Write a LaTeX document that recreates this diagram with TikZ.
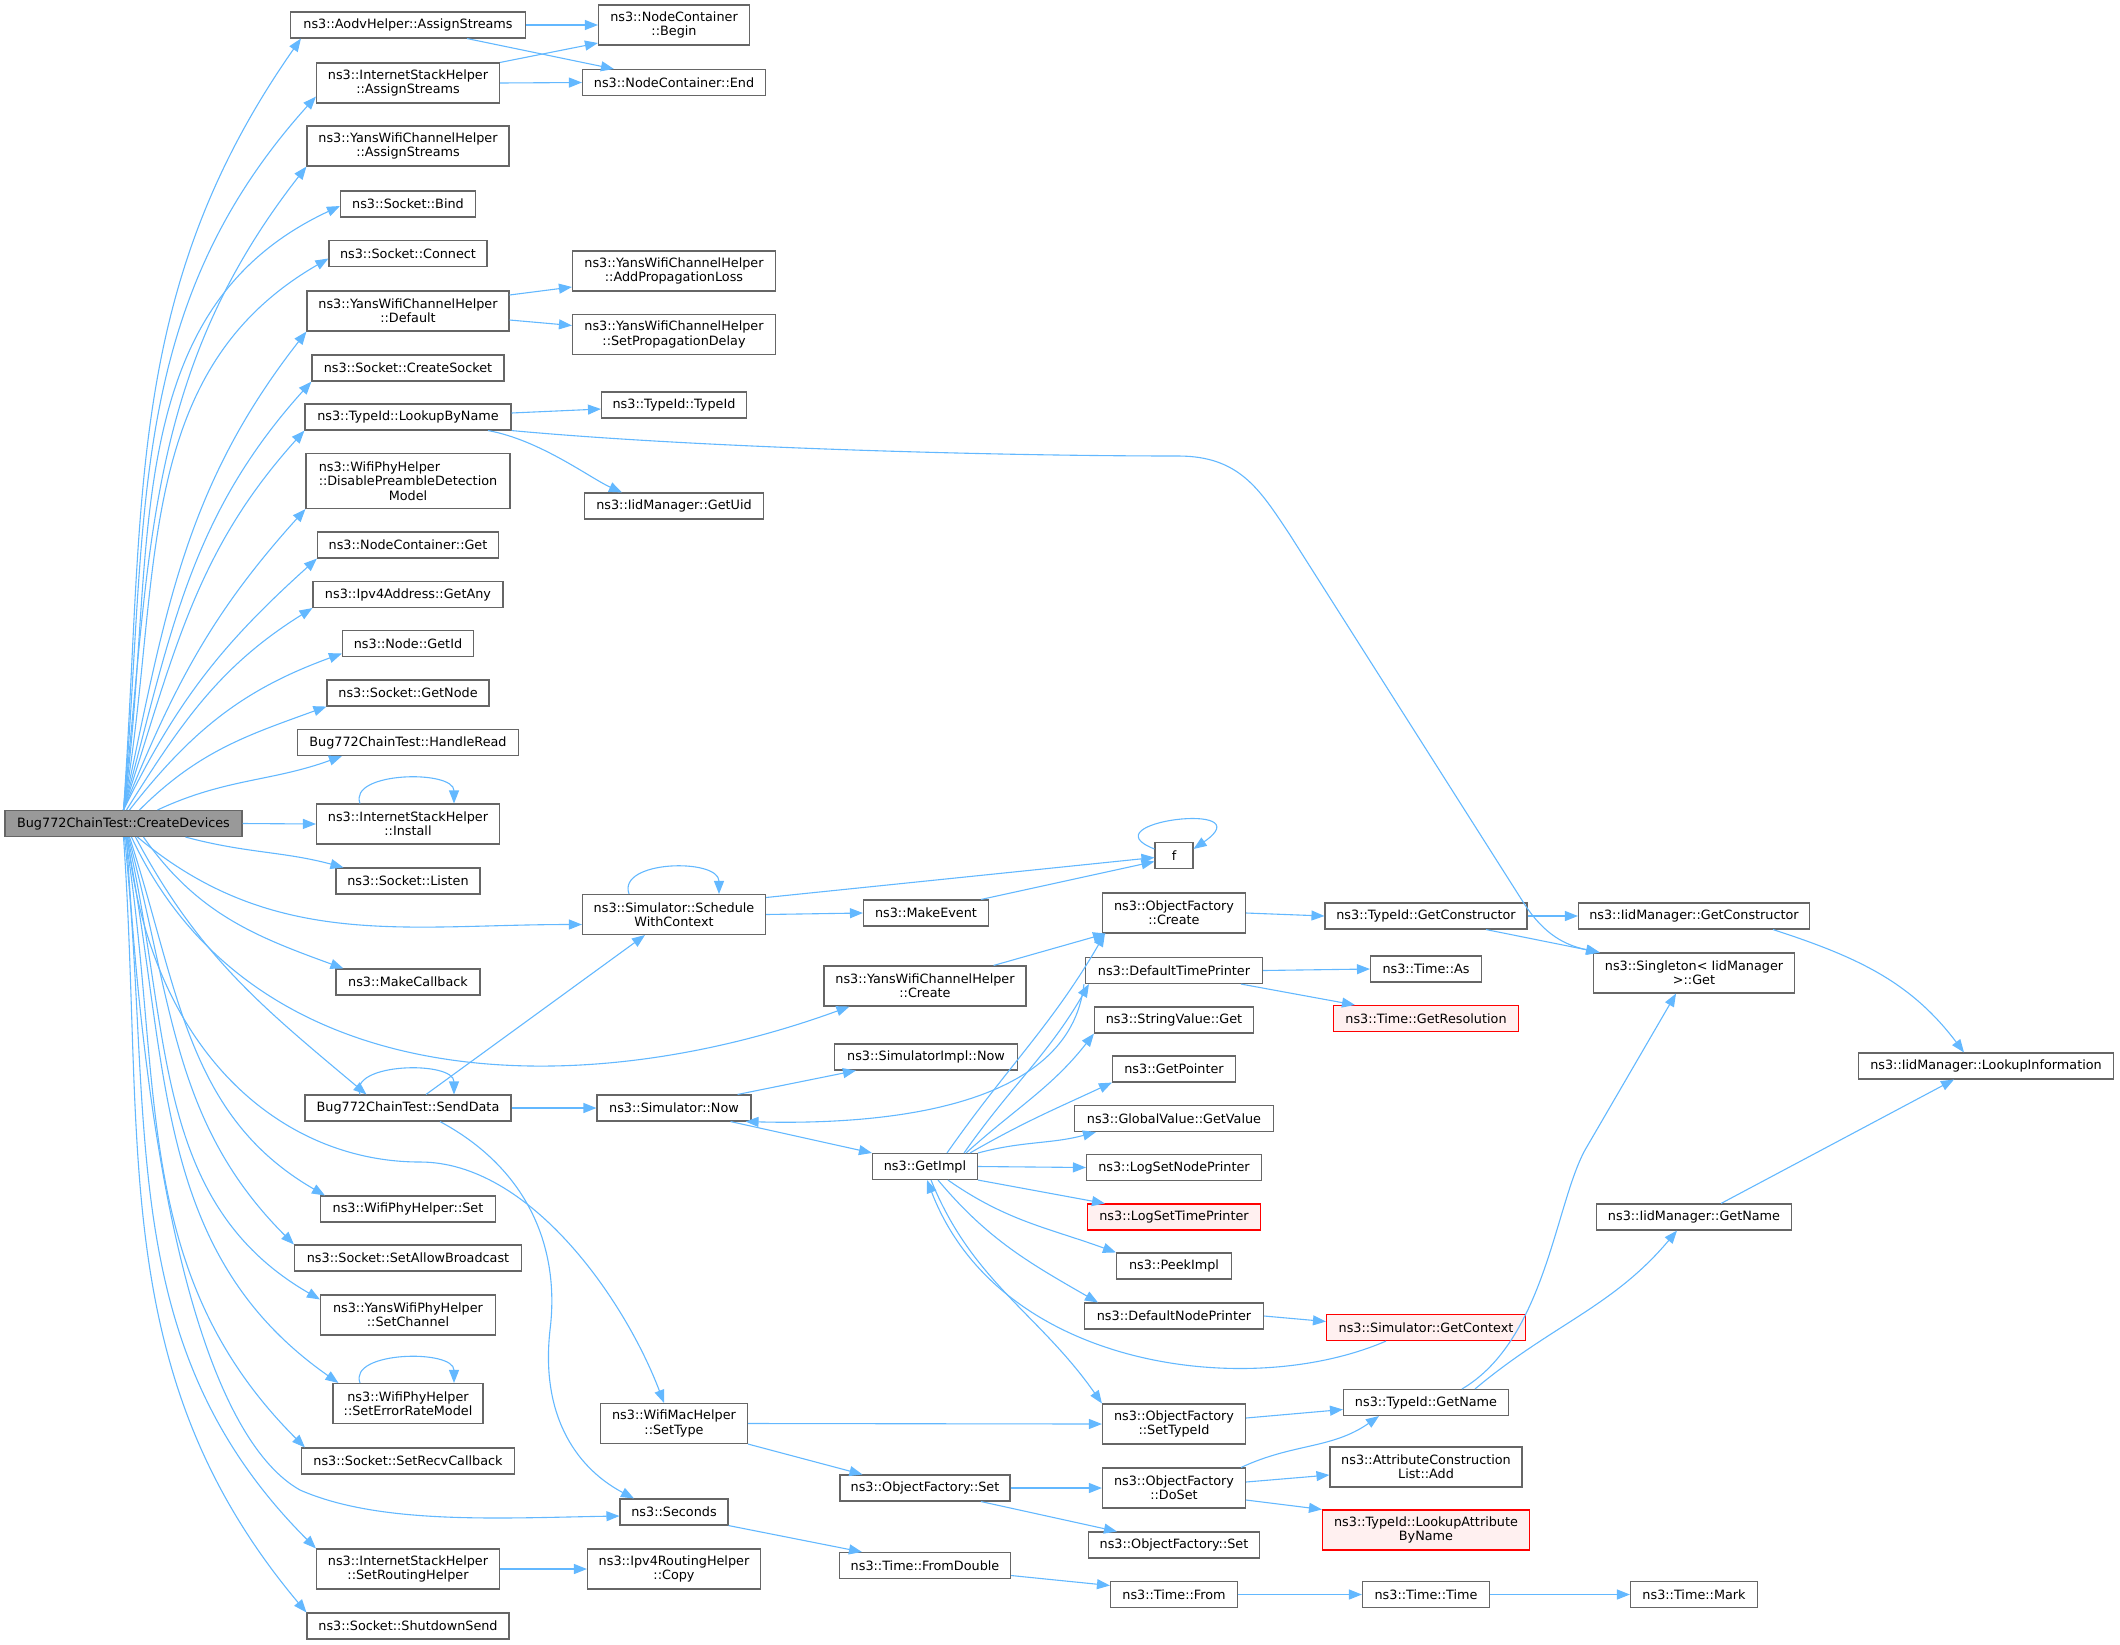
\documentclass[tikz,border=0pt]{standalone}
\usepackage{fontspec}
\setmainfont{DejaVu Sans}
\usetikzlibrary{arrows.meta}
\definecolor{edgeblue}{HTML}{63B8FF}
\definecolor{boxgray}{HTML}{666666}
\definecolor{rootgray}{HTML}{999999}
\definecolor{undocfill}{HTML}{FFF0F0}

\begin{document}
\begin{tikzpicture}[x=1pt, y=1pt, >={Triangle[length=13pt,width=10pt]},
	fn/.style={draw=boxgray, fill=white, line width=1.1pt, inner sep=2pt, align=center,
		font=\fontsize{12.8}{14.3}\selectfont, minimum height=26pt},
	two/.style={minimum height=40pt},
	root/.style={fill=rootgray},
	undoc/.style={draw=red, fill=undocfill},
	call/.style={->, edgeblue, line width=1.1pt}]
	\useasboundingbox (0,0) rectangle (2120,-1644);

	% Nodes {root, callees of CreateDevices}
	\node [fn, root, minimum width=237pt]	(cd)		at (123.5,-823.5)	{Bug772ChainTest::CreateDevices};
	\node [fn, minimum width=235pt]		(aodv)		at (408,-25)	{ns3::AodvHelper::AssignStreams};
	\node [fn, two, minimum width=183pt]	(isas)		at (408,-83)	{ns3::InternetStackHelper\\::AssignStreams};
	\node [fn, two, minimum width=202pt]	(ywas)		at (408,-146)	{ns3::YansWifiChannelHelper\\::AssignStreams};
	\node [fn, minimum width=135pt]		(bind)		at (408,-204)	{ns3::Socket::Bind};
	\node [fn, minimum width=158pt]		(connect)	at (408,-253.5)	{ns3::Socket::Connect};
	\node [fn, two, minimum width=202pt]	(default)	at (408,-311)	{ns3::YansWifiChannelHelper\\::Default};
	\node [fn, minimum width=192pt]		(csock)		at (408,-368)	{ns3::Socket::CreateSocket};
	\node [fn, minimum width=206pt]		(lookup)	at (408,-417)	{ns3::TypeId::LookupByName};
	\node [fn, minimum width=204pt, minimum height=55pt]	(disable)	at (408,-481)
		{\rlap{ns3::WifiPhyHelper}\phantom{::DisablePreambleDetection}\\::DisablePreambleDetection\\Model};
	\node [fn, minimum width=181pt]		(ncget)		at (408,-545)	{ns3::NodeContainer::Get};
	\node [fn, minimum width=190pt]		(getany)	at (408,-594.5)	{ns3::Ipv4Address::GetAny};
	\node [fn, minimum width=131pt]		(getid)		at (408,-643.5)	{ns3::Node::GetId};
	\node [fn, minimum width=162pt]		(getnode)	at (408,-693)	{ns3::Socket::GetNode};
	\node [fn, minimum width=221pt]		(hread)		at (408,-742.5)	{Bug772ChainTest::HandleRead};
	\node [fn, two, minimum width=183pt]	(install)	at (408,-824)	{ns3::InternetStackHelper\\::Install};
	\node [fn, minimum width=144pt]		(listen)	at (408,-881)	{ns3::Socket::Listen};
	\node [fn, minimum width=144pt]		(mkcb)		at (408,-982)	{ns3::MakeCallback};
	\node [fn, minimum width=206pt]		(send)		at (408,-1108)	{Bug772ChainTest::SendData};
	\node [fn, minimum width=175pt]		(wset)		at (408,-1209)	{ns3::WifiPhyHelper::Set};
	\node [fn, minimum width=227pt]		(allowbc)	at (408,-1258)	{ns3::Socket::SetAllowBroadcast};
	\node [fn, two, minimum width=175pt]	(setchan)	at (408,-1315)	{ns3::YansWifiPhyHelper\\::SetChannel};
	\node [fn, two, minimum width=150pt]	(errmodel)	at (408,-1403.5)	{ns3::WifiPhyHelper\\::SetErrorRateModel};
	\node [fn, minimum width=213pt]		(recvcb)	at (408,-1461)	{ns3::Socket::SetRecvCallback};
	\node [fn, two, minimum width=183pt]	(routing)	at (408,-1569)	{ns3::InternetStackHelper\\::SetRoutingHelper};
	\node [fn, minimum width=202pt]		(shutdown)	at (408,-1626)	{ns3::Socket::ShutdownSend};

	% Nodes {second column}
	\node [fn, two, minimum width=151pt]	(begin)		at (674,-25)	{ns3::NodeContainer\\::Begin};
	\node [fn, minimum width=183pt]		(end)		at (674,-82.5)	{ns3::NodeContainer::End};
	\node [fn, two, minimum width=203pt]	(addloss)	at (674,-271)	{ns3::YansWifiChannelHelper\\::AddPropagationLoss};
	\node [fn, two, minimum width=203pt]	(setdelay)	at (674,-334.5)	{ns3::YansWifiChannelHelper\\::SetPropagationDelay};
	\node [fn, minimum width=145pt]		(typeid)	at (674,-405)	{ns3::TypeId::TypeId};
	\node [fn, minimum width=179pt]		(getuid)	at (674,-506)	{ns3::IidManager::GetUid};
	\node [fn, two, minimum width=183pt]	(sched)		at (674,-914.5)	{ns3::Simulator::Schedule\\WithContext};
	\node [fn, minimum width=154pt]		(simnow)	at (674,-1108)	{ns3::Simulator::Now};
	\node [fn, two, minimum width=147pt]	(settype)	at (674,-1423.5)	{ns3::WifiMacHelper\\::SetType};
	\node [fn, minimum width=108pt]		(seconds)	at (674,-1512)	{ns3::Seconds};
	\node [fn, two, minimum width=173pt]	(copy)		at (674,-1569)	{ns3::Ipv4RoutingHelper\\::Copy};

	% Nodes {third column}
	\node [fn, minimum width=125pt]		(mkevent)	at (926,-913)	{ns3::MakeEvent};
	\node [fn, two, minimum width=202pt]	(ywcreate)	at (925,-986)	{ns3::YansWifiChannelHelper\\::Create};
	\node [fn, minimum width=183pt]		(implnow)	at (926,-1057)	{ns3::SimulatorImpl::Now};
	\node [fn, minimum width=105pt]		(getimpl)	at (925,-1166.5)	{ns3::GetImpl};
	\node [fn, minimum width=170pt]		(ofset)		at (925,-1488)	{ns3::ObjectFactory::Set};
	\node [fn, minimum width=171pt]		(fromdbl)	at (925,-1565.5)	{ns3::Time::FromDouble};

	% Nodes {fourth column}
	\node [fn, minimum width=38pt]		(f)		at (1174,-855.5)	{f};
	\node [fn, two, minimum width=143pt]	(ofcreate)	at (1174,-913)	{ns3::ObjectFactory\\::Create};
	\node [fn, minimum width=177pt]		(dtp)		at (1174,-970.5)	{ns3::DefaultTimePrinter};
	\node [fn, minimum width=159pt]		(svget)		at (1174,-1020)	{ns3::StringValue::Get};
	\node [fn, minimum width=123pt]		(getptr)	at (1174,-1069)	{ns3::GetPointer};
	\node [fn, minimum width=199pt]		(gvget)		at (1174,-1118.5)	{ns3::GlobalValue::GetValue};
	\node [fn, minimum width=175pt]		(lsnp)		at (1174,-1167.5)	{ns3::LogSetNodePrinter};
	\node [fn, undoc, minimum width=173pt]	(lstp)		at (1174,-1217)	{ns3::LogSetTimePrinter};
	\node [fn, minimum width=115pt]		(peek)		at (1174,-1266)	{ns3::PeekImpl};
	\node [fn, minimum width=179pt]		(dnp)		at (1174,-1316)	{ns3::DefaultNodePrinter};
	\node [fn, two, minimum width=143pt]	(settid)	at (1174,-1424)	{ns3::ObjectFactory\\::SetTypeId};
	\node [fn, two, minimum width=143pt]	(doset)		at (1174,-1488)	{ns3::ObjectFactory\\::DoSet};
	\node [fn, minimum width=171pt]		(ofset2)	at (1174,-1545)	{ns3::ObjectFactory::Set};
	\node [fn, minimum width=127pt]		(tfrom)		at (1174,-1594.5)	{ns3::Time::From};

	% Nodes {fifth column and beyond}
	\node [fn, minimum width=202pt]		(getctor)	at (1426,-916)	{ns3::TypeId::GetConstructor};
	\node [fn, minimum width=111pt]		(timeas)	at (1426,-969)	{ns3::Time::As};
	\node [fn, undoc, minimum width=185pt]	(getres)	at (1426,-1018.5)	{ns3::Time::GetResolution};
	\node [fn, undoc, minimum width=199pt]	(getctx)	at (1426,-1327.5)	{ns3::Simulator::GetContext};
	\node [fn, minimum width=165pt]		(getname)	at (1426,-1402.5)	{ns3::TypeId::GetName};
	\node [fn, two, minimum width=192pt]	(attradd)	at (1426,-1467)	{ns3::AttributeConstruction\\List::Add};
	\node [fn, two, undoc, minimum width=207pt]	(lkattr)	at (1426,-1530)	{ns3::TypeId::LookupAttribute\\ByName};
	\node [fn, minimum width=127pt]		(ttime)		at (1426,-1594.5)	{ns3::Time::Time};
	\node [fn, minimum width=231pt]		(iidctor)	at (1694,-916)	{ns3::IidManager::GetConstructor};
	\node [fn, two, minimum width=201pt]	(single)	at (1694,-973)	{ns3::Singleton< IidManager\\>::Get};
	\node [fn, minimum width=195pt]		(iidname)	at (1694,-1217)	{ns3::IidManager::GetName};
	\node [fn, minimum width=127pt]		(tmark)		at (1694,-1594.5)	{ns3::Time::Mark};
	\node [fn, minimum width=255pt]		(lkinfo)	at (1986,-1066)	{ns3::IidManager::LookupInformation};

	% Paths {CreateDevices, upwards}
	\path [call] (cd.north) edge [out=86, in=235] ([xshift=11pt]aodv.south west);
	\path [call] (cd.north) edge [out=85, in=228] ([yshift=7pt]isas.south west);
	\path [call] (cd.north) edge [out=84, in=232] (ywas.south west);
	\path [call] (cd.north) edge [out=82, in=205] ([yshift=-2pt]bind.west);
	\path [call] (cd.north) edge [out=80, in=210] ([yshift=-5pt]connect.west);
	\path [call] (cd.north) edge [out=78, in=232] (default.south west);
	\path [call] (cd.north) edge [out=75, in=228] (csock.south west);
	\path [call] (cd.north) edge [out=72, in=228] (lookup.south west);
	\path [call] (cd.north) edge [out=68, in=228] (disable.south west);
	\path [call] (cd.north) edge [out=64, in=222] (ncget.south west);
	\path [call] ([xshift=3pt]cd.north) edge [out=58, in=212] (getany.south west);
	\path [call] ([xshift=6pt]cd.north) edge [out=52, in=200] ([yshift=-10pt]getid.west);
	\path [call] ([xshift=16pt]cd.north) edge [out=45, in=200] (getnode.south west);
	\path [call] ([xshift=34pt]cd.north) edge [out=25, in=200] ([xshift=45pt]hread.south west);
	\path [call] (cd.east) edge (install.west);

	% Paths {CreateDevices, downwards}
	\path [call] ([xshift=62pt]cd.south) edge [out=-15, in=165] ([xshift=8pt]listen.north west);
	\path [call] ([xshift=14pt]cd.south) edge [out=-40, in=180] ([yshift=-10pt]sched.west);
	\path [call] ([xshift=20pt]cd.south) edge [out=-55, in=160] ([xshift=8pt]mkcb.north west);
	\path [call] ([xshift=8pt]cd.south) edge [out=-65, in=200] ([xshift=26pt]ywcreate.south west);
	\path [call] ([xshift=12pt]cd.south) edge [out=-62, in=140] ([xshift=62pt]send.north west);
	\draw [call] ([xshift=4pt]cd.south) .. controls (150,-1050) and (280,-1162) .. (420,-1162)
		.. controls (530,-1162) and (625,-1300) .. ([xshift=-10pt]settype.north);
	\path [call] ([xshift=6pt]cd.south) edge [out=-72, in=150] ([xshift=5pt]wset.north west);
	\path [call] ([xshift=5pt]cd.south) edge [out=-75, in=135] (allowbc.north west);
	\path [call] ([xshift=4pt]cd.south) edge [out=-77, in=150] ([yshift=-5pt]setchan.north west);
	\path [call] ([xshift=3pt]cd.south) edge [out=-79, in=145] ([xshift=6pt]errmodel.north west);
	\path [call] ([xshift=2pt]cd.south) edge [out=-81, in=135] ([xshift=4pt]recvcb.north west);
	\draw [call] ([xshift=3pt]cd.south) .. controls (150,-1250) and (220,-1445) .. (300,-1490)
		.. controls (380,-1525) and (500,-1518) .. ([yshift=-4pt]seconds.west);
	\path [call] ([xshift=1pt]cd.south) edge [out=-84, in=135] (routing.north west);
	\path [call] (cd.south) edge [out=-86, in=130] (shutdown.north west);

	% Paths {self calls}
	\draw [call] ([xshift=-48pt]install.north) .. controls +(-12,32) and +(0,34) .. ([xshift=46pt]install.north);
	\draw [call] ([xshift=-48pt]errmodel.north) .. controls +(-12,32) and +(0,34) .. ([xshift=46pt]errmodel.north);
	\draw [call] ([xshift=-48pt]send.north) .. controls +(-12,32) and +(0,34) .. ([xshift=46pt]send.north);
	\draw [call] ([xshift=-45pt]sched.north) .. controls +(-12,34) and +(0,36) .. ([xshift=45pt]sched.north);
	\draw [call] ([yshift=-7pt]f.north west) .. controls (1085,-822) and (1265,-800) .. ([yshift=-7pt]f.north east);

	% Paths {second column}
	\path [call] (aodv.east) edge (begin.west);
	\path [call] ([xshift=59pt]aodv.south) edge ([xshift=32pt]end.north west);
	\path [call] (isas.north east) edge ([yshift=-18pt]begin.west);
	\path [call] (isas.east) edge (end.west);
	\path [call] ([yshift=16pt]default.east) edge ([yshift=-16pt]addloss.west);
	\path [call] ([yshift=-9pt]default.east) edge ([yshift=9pt]setdelay.west);
	\path [call] ([yshift=4pt]lookup.east) edge ([yshift=-4pt]typeid.west);
	\draw [call] ([xshift=80pt]lookup.south) .. controls (540,-440) and (590,-478) .. ([xshift=38pt]getuid.north west);
	\draw [call] (lookup.south east) .. controls (700,-448) and (1000,-456) .. (1178,-456)
		.. controls (1240,-456) and (1260,-490) .. (1290,-535) -- (1525,-905)
		.. controls (1545,-935) and (1565,-945) .. ([xshift=6pt]single.north west);
	\path [call] ([xshift=18pt]send.north) edge ([xshift=-29pt]sched.south);
	\path [call] (send.east) edge (simnow.west);
	\draw [call] ([xshift=32pt]send.south) .. controls (530,-1170) and (560,-1250) .. (550,-1330)
		.. controls (540,-1420) and (580,-1470) .. ([xshift=-40pt]seconds.north);
	\path [call] ([yshift=17pt]sched.east) edge ([yshift=-2pt]f.west);
	\path [call] (sched.east) edge (mkevent.west);
	\path [call] ([xshift=-21pt]simnow.south east) edge (getimpl.north west);
	\path [call] ([xshift=-14pt]simnow.north east) edge ([xshift=22pt]implnow.south west);
	\path [call] (settype.east) edge (settid.west);
	\path [call] (settype.south east) edge ([xshift=23pt]ofset.north west);
	\path [call] (seconds.south east) edge ([xshift=23pt]fromdbl.north west);
	\path [call] (routing.east) edge (copy.west);

	% Paths {third column}
	\path [call] ([xshift=-8pt]mkevent.north east) edge ([yshift=-6pt]f.west);
	\path [call] ([xshift=-33pt]ywcreate.north east) edge ([xshift=4pt]ofcreate.south west);
	\path [call] ([xshift=22pt]getimpl.north) edge [out=55, in=240] ([xshift=3pt]ofcreate.south west);
	\path [call] ([xshift=-14pt]getimpl.north east) edge [out=55, in=240] ([xshift=4pt]dtp.south west);
	\path [call] ([xshift=-12pt]getimpl.north east) edge [out=42, in=232] (svget.south west);
	\path [call] ([xshift=-8pt]getimpl.north east) edge [out=30, in=205] (getptr.south west);
	\path [call] (getimpl.north east) edge [out=15, in=195] ([xshift=22pt]gvget.south west);
	\path [call] (getimpl.east) edge (lsnp.west);
	\path [call] (getimpl.south east) edge ([xshift=18pt]lstp.north west);
	\path [call] ([xshift=23pt]getimpl.south) edge [out=-35, in=160] (peek.north west);
	\path [call] ([xshift=13pt]getimpl.south) edge [out=-50, in=150] ([xshift=14pt]dnp.north west);
	\path [call] ([xshift=6pt]getimpl.south) edge [out=-68, in=125] (settid.north west);
	\draw [call] ([xshift=-40pt]getctx.south) .. controls (1250,-1400) and (1000,-1370) .. ([xshift=2pt]getimpl.south);
	\draw [call] ([xshift=-1pt]dtp.south west) .. controls (1070,-1110) and (880,-1125) .. ([xshift=-6pt]simnow.south east);
	\path [call] (ofset.east) edge (doset.west);
	\path [call] ([xshift=56pt]ofset.south) edge ([xshift=29pt]ofset2.north west);
	\path [call] ([yshift=-10pt]fromdbl.east) edge ([yshift=9pt]tfrom.west);

	% Paths {fourth column and beyond}
	\path [call] (ofcreate.east) edge (getctor.west);
	\path [call] (dtp.east) edge (timeas.west);
	\path [call] ([xshift=67pt]dtp.south) edge ([xshift=22pt]getres.north west);
	\path [call] (dnp.east) edge ([yshift=6pt]getctx.west);
	\path [call] ([yshift=6pt]settid.east) edge ([yshift=-7pt]getname.west);
	\path [call] ([xshift=-5pt]doset.north east) edge [out=25, in=215] ([xshift=-47pt]getname.south);
	\path [call] ([yshift=6pt]doset.east) edge ([yshift=-8pt]attradd.west);
	\path [call] ([yshift=-12pt]doset.east) edge (lkattr.north west);
	\path [call] (tfrom.east) edge (ttime.west);
	\path [call] (ttime.east) edge (tmark.west);
	\path [call] (getctor.east) edge (iidctor.west);
	\path [call] ([xshift=60pt]getctor.south) edge ([xshift=7pt]single.north west);
	\path [call] ([xshift=79pt]iidctor.south) edge [out=-18, in=127] ([xshift=-22pt]lkinfo.north);
	\path [call] ([xshift=27pt]iidname.north) edge ([xshift=-32pt]lkinfo.south);
	\path [call] ([xshift=49pt]getname.north) edge [out=40, in=230] ([xshift=-17pt]iidname.south);
	\draw [call] ([xshift=36pt]getname.north) .. controls (1545,-1340) and (1555,-1205) .. (1585,-1150)
		-- ([xshift=-18pt]single.south);

\end{tikzpicture}
\end{document}
